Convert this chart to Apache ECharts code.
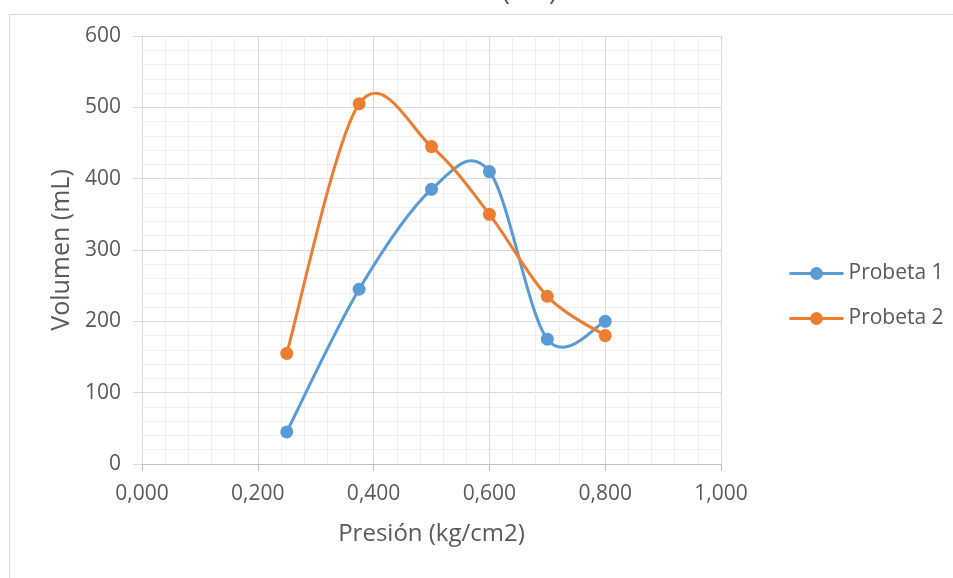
<!DOCTYPE html>
<html>
<head>
<meta charset="utf-8">
<script src="https://cdn.jsdelivr.net/npm/echarts@6/dist/echarts.min.js"></script>
<style>
html,body{margin:0;padding:0;background:#fff;}
#c{width:953px;height:578px;}
</style>
</head>
<body>
<div id="c"></div>
<script>
const presion = [0.25, 0.375, 0.5, 0.6, 0.7, 0.8];
const probeta1 = [45, 245, 385, 410, 175, 200];
const probeta2 = [155, 505, 445, 350, 235, 180];
const seriesNames = ['Probeta 1', 'Probeta 2'];
const seriesColors = ['#5B9BD5', '#ED7D31'];
const xTitle = 'Presión (kg/cm2)';
const yTitle = 'Volumen (mL)';
const topTitle = '(mL)';

const font = "'Open Sans', 'Liberation Sans', sans-serif";
const chart = echarts.init(document.getElementById('c'));
const pairs = (ys) => presion.map((x, i) => [x, ys[i]]);

// Excel-style smoothed curve (Catmull-Rom Bezier) drawn in pixel space via the axes
function smoothCurve(ys, color, z) {
  return {
    type: 'custom', z: z, silent: true, clip: false,
    data: [[presion[0], ys[0]]],
    renderItem: function (params, api) {
      const p = presion.map((x, i) => api.coord([x, ys[i]]));
      let d = 'M' + p[0][0] + ' ' + p[0][1];
      for (let i = 0; i < p.length - 1; i++) {
        const p0 = p[Math.max(i - 1, 0)], p1 = p[i], p2 = p[i + 1], p3 = p[Math.min(i + 2, p.length - 1)];
        const c1x = p1[0] + (p2[0] - p0[0]) / 6, c1y = p1[1] + (p2[1] - p0[1]) / 6;
        const c2x = p2[0] - (p3[0] - p1[0]) / 6, c2y = p2[1] - (p3[1] - p1[1]) / 6;
        d += ' C' + c1x + ' ' + c1y + ' ' + c2x + ' ' + c2y + ' ' + p2[0] + ' ' + p2[1];
      }
      return {type: 'path', shape: {pathData: d},
        style: {stroke: color, lineWidth: 3, fill: null, lineJoin: 'round', lineCap: 'round'}};
    }
  };
}

chart.setOption({
  animation: false,
  backgroundColor: '#fff',
  graphic: [
    {type: 'polyline', shape: {points: [[9.5, 578], [9.5, 14.5], [953, 14.5]]},
     style: {stroke: '#d9d9d9', fill: null, lineWidth: 1}, silent: true},
    {type: 'text', left: 502, top: -21, silent: true,
     style: {text: topTitle, fontSize: 27, fontFamily: font, fill: '#595959'}}
  ],
  grid: {left: 142, right: 232, top: 36, bottom: 114},
  legend: {
    orient: 'vertical', left: 783, top: 258, itemWidth: 54, itemHeight: 16, itemGap: 24,
    textStyle: {color: '#595959', fontSize: 21, fontFamily: font},
    data: seriesNames.map((n, i) => ({name: n,
      lineStyle: {color: seriesColors[i], width: 3, opacity: 1},
      itemStyle: {color: seriesColors[i], opacity: 1}}))
  },
  xAxis: {
    type: 'value', min: 0, max: 1, interval: 0.2,
    name: xTitle, nameLocation: 'middle', nameGap: 58,
    nameTextStyle: {color: '#595959', fontSize: 24, fontFamily: font},
    axisLine: {show: true, lineStyle: {color: '#bfbfbf', width: 1}},
    axisTick: {show: true, length: 7, lineStyle: {color: '#bfbfbf'}},
    axisLabel: {color: '#595959', fontSize: 21, fontFamily: font, margin: 20,
      formatter: v => v.toFixed(3).replace('.', ',')},
    splitLine: {show: true, lineStyle: {color: '#d9d9d9', width: 1}},
    minorTick: {show: false, splitNumber: 5},
    minorSplitLine: {show: true, lineStyle: {color: '#efefef', width: 1}}
  },
  yAxis: {
    type: 'value', min: 0, max: 600, interval: 100,
    name: yTitle, nameLocation: 'middle', nameGap: 68, nameRotate: 90,
    nameTextStyle: {color: '#595959', fontSize: 25, fontFamily: font},
    axisLine: {show: true, lineStyle: {color: '#d9d9d9', width: 1}},
    axisTick: {show: true, length: 9, lineStyle: {color: '#d9d9d9'}},
    axisLabel: {color: '#595959', fontSize: 21, fontFamily: font, margin: 21},
    splitLine: {show: true, lineStyle: {color: '#d9d9d9', width: 1}},
    minorTick: {show: false, splitNumber: 5},
    minorSplitLine: {show: true, lineStyle: {color: '#efefef', width: 1}}
  },
  series: [
    smoothCurve(probeta1, seriesColors[0], 2),
    {name: seriesNames[0], type: 'line', data: pairs(probeta1), smooth: false,
     symbol: 'circle', symbolSize: 13, color: seriesColors[0],
     lineStyle: {width: 3, color: seriesColors[0], opacity: 0},
     itemStyle: {color: seriesColors[0]}, z: 3},
    smoothCurve(probeta2, seriesColors[1], 4),
    {name: seriesNames[1], type: 'line', data: pairs(probeta2), smooth: false,
     symbol: 'circle', symbolSize: 13, color: seriesColors[1],
     lineStyle: {width: 3, color: seriesColors[1], opacity: 0},
     itemStyle: {color: seriesColors[1]}, z: 5}
  ]
});
</script>
</body>
</html>
